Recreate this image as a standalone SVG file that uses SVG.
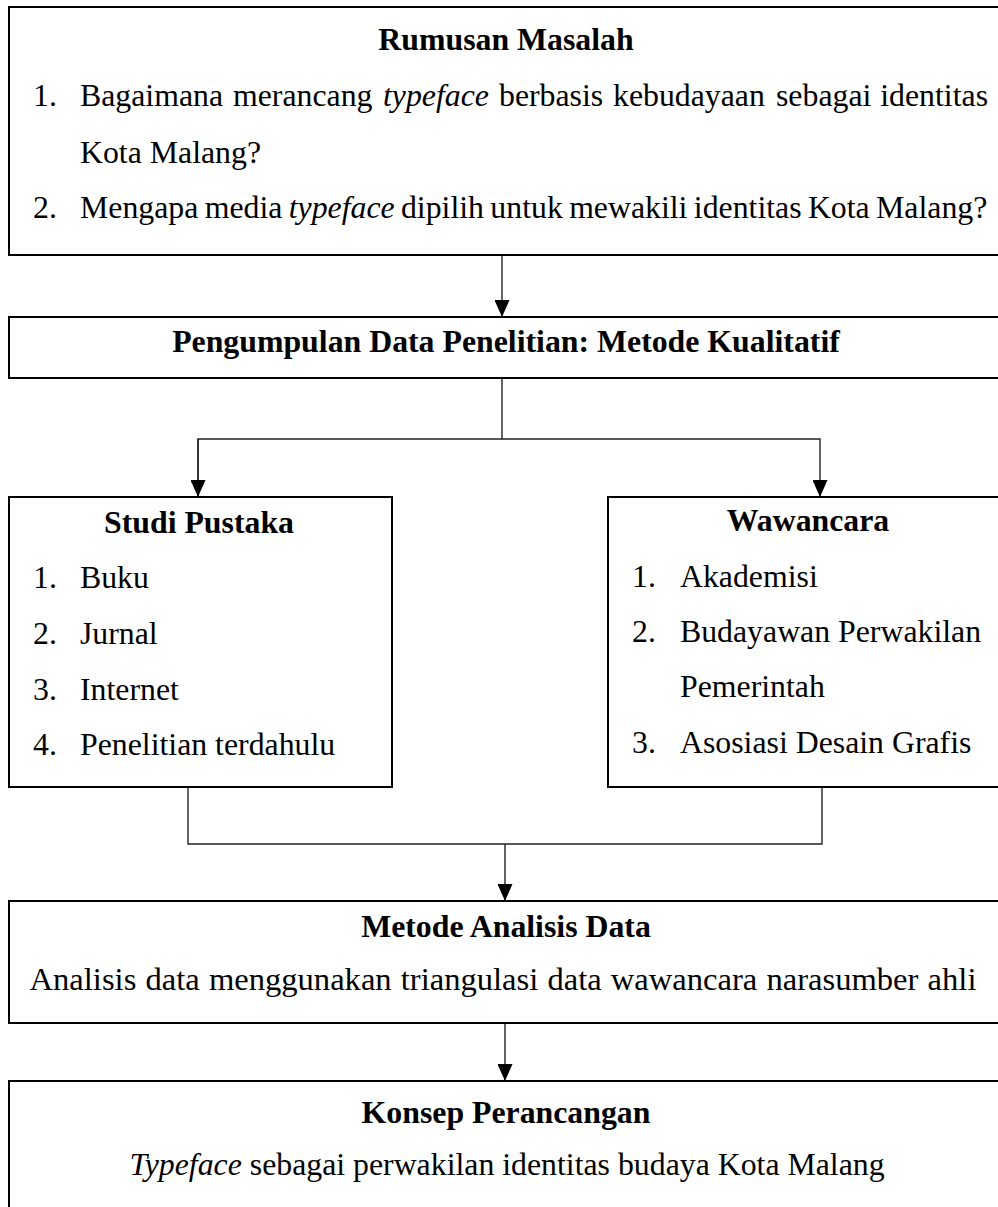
<svg xmlns="http://www.w3.org/2000/svg" width="998" height="1207" viewBox="0 0 998 1207">
<style>
.box{fill:#fff;stroke:#000;stroke-width:2}
.t{font-family:"Liberation Serif","Times New Roman",serif;font-size:31.8px;fill:#000}
.b{font-weight:bold}
.c{text-anchor:middle}
.e{text-anchor:end}
.i{font-style:italic}
.ln{fill:none;stroke:#222;stroke-width:1.4}
</style>
<defs>
<marker id="ad" markerUnits="userSpaceOnUse" markerWidth="15" markerHeight="17" refX="7.5" refY="17" orient="0" viewBox="0 0 15 17">
<path d="M0,0 L15,0 L7.5,17 Z" fill="#000"/>
</marker>
</defs>

<g id="connectors">
<line class="ln" x1="502" y1="256" x2="502" y2="317" marker-end="url(#ad)"/>
<polyline class="ln" points="502,379 502,439"/>
<polyline class="ln" points="198,497 198,439 820,439 820,497" marker-end="url(#ad)"/>
<line class="ln" x1="198" y1="439" x2="198" y2="497" marker-end="url(#ad)"/>
<polyline class="ln" points="188,788 188,844 822,844 822,788"/>
<line class="ln" x1="505" y1="844" x2="505" y2="901" marker-end="url(#ad)"/>
<line class="ln" x1="505" y1="1024" x2="505" y2="1081" marker-end="url(#ad)"/>
</g>

<g id="rumusan">
<rect class="box" x="9" y="7" width="1010" height="248"/>
<text class="t b c" x="506" y="50">Rumusan Masalah</text>
<text class="t" x="33" y="106">1.</text>
<text class="t" x="80" y="106">Bagaimana</text>
<text class="t" x="233" y="106">merancang</text>
<text class="t i" x="383" y="106">typeface</text>
<text class="t" x="499" y="106">berbasis</text>
<text class="t" x="613" y="106">kebudayaan</text>
<text class="t" x="776" y="106">sebagai</text>
<text class="t e" x="988" y="106">identitas</text>
<text class="t" x="80" y="163">Kota Malang?</text>
<text class="t" x="33" y="218">2.</text>
<text class="t" x="80" y="218" word-spacing="-1.6">Mengapa media <tspan class="i">typeface</tspan> dipilih untuk mewakili identitas Kota Malang?</text>
</g>

<g id="pengumpulan">
<rect class="box" x="9" y="317" width="1010" height="61"/>
<text class="t b c" x="506" y="352">Pengumpulan Data Penelitian: Metode Kualitatif</text>
</g>

<g id="studi">
<rect class="box" x="9" y="497" width="383" height="290"/>
<text class="t b c" x="199" y="533">Studi Pustaka</text>
<text class="t" x="33" y="588">1.</text><text class="t" x="80" y="588">Buku</text>
<text class="t" x="33" y="644">2.</text><text class="t" x="80" y="644">Jurnal</text>
<text class="t" x="33" y="700">3.</text><text class="t" x="80" y="700">Internet</text>
<text class="t" x="33" y="755">4.</text><text class="t" x="80" y="755">Penelitian terdahulu</text>
</g>

<g id="wawancara">
<rect class="box" x="608" y="497" width="410" height="290"/>
<text class="t b c" x="808" y="531">Wawancara</text>
<text class="t" x="632" y="587">1.</text><text class="t" x="680" y="587">Akademisi</text>
<text class="t" x="632" y="642">2.</text><text class="t" x="680" y="642">Budayawan Perwakilan</text>
<text class="t" x="680" y="697">Pemerintah</text>
<text class="t" x="632" y="753">3.</text><text class="t" x="680" y="753">Asosiasi Desain Grafis</text>
</g>

<g id="metode">
<rect class="box" x="9" y="901" width="1010" height="122"/>
<text class="t b c" x="506" y="937">Metode Analisis Data</text>
<text class="t c" x="503" y="990" style="font-size:32.6px" word-spacing="1">Analisis data menggunakan triangulasi data wawancara narasumber ahli</text>
</g>

<g id="konsep">
<rect class="box" x="9" y="1081" width="1010" height="150"/>
<text class="t b c" x="506" y="1123">Konsep Perancangan</text>
<text class="t c" x="507" y="1175"><tspan class="i">Typeface</tspan> sebagai perwakilan identitas budaya Kota Malang</text>
</g>
</svg>
